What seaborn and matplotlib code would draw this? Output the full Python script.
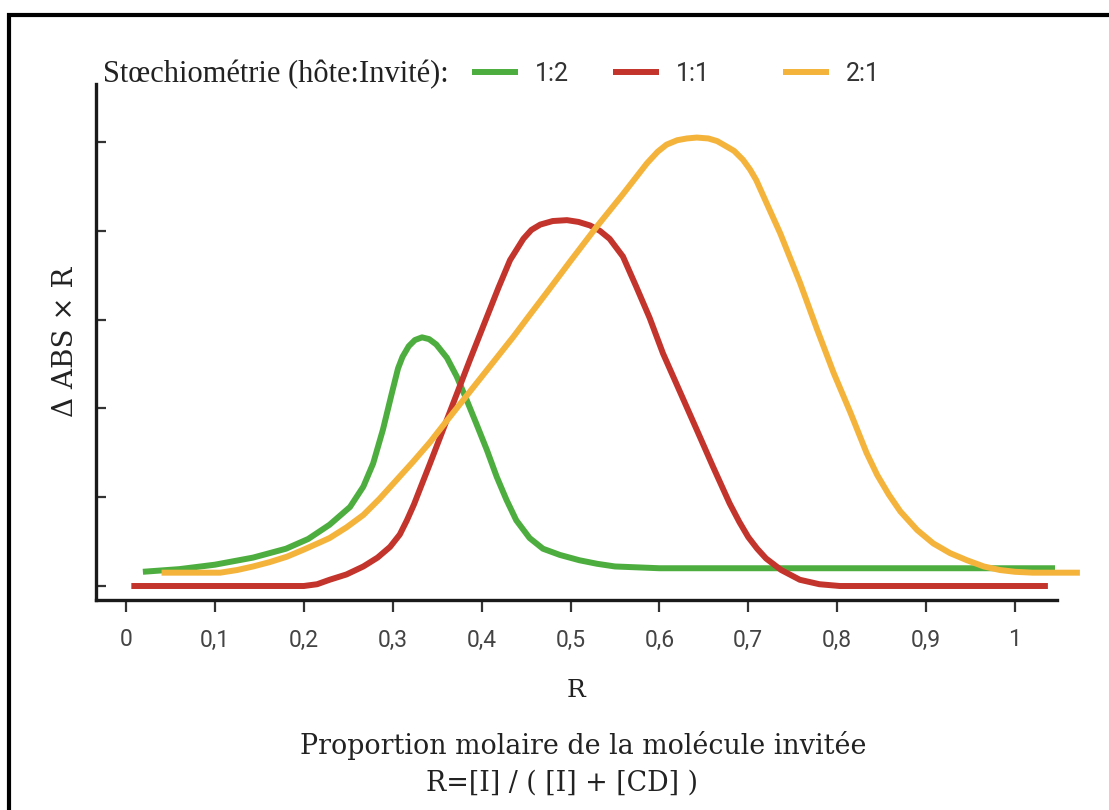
import numpy as np
import pandas as pd
import seaborn as sns
import matplotlib
matplotlib.use("Agg")
import matplotlib.pyplot as plt
from matplotlib.lines import Line2D
from matplotlib.patches import Rectangle

# ---------------- data ----------------
r_12 = [0.019, 0.06, 0.10, 0.143, 0.18, 0.205, 0.229, 0.252, 0.267, 0.278, 0.289, 0.299,
        0.306, 0.311, 0.318, 0.325, 0.333, 0.341, 0.349, 0.361, 0.372, 0.383, 0.394, 0.406,
        0.417, 0.428, 0.439, 0.454, 0.469, 0.488, 0.51, 0.53, 0.55, 0.60, 0.80, 1.045]
v_12 = [0.16, 0.19, 0.24, 0.32, 0.42, 0.53, 0.69, 0.89, 1.12, 1.38, 1.76, 2.17,
        2.45, 2.58, 2.70, 2.77, 2.80, 2.78, 2.72, 2.57, 2.36, 2.10, 1.83, 1.53,
        1.23, 0.97, 0.74, 0.54, 0.42, 0.35, 0.29, 0.25, 0.22, 0.20, 0.20, 0.20]

r_11 = [0.006, 0.10, 0.200, 0.215, 0.229, 0.248, 0.267, 0.283, 0.297, 0.308, 0.316, 0.324,
        0.331, 0.342, 0.357, 0.372, 0.387, 0.402, 0.419, 0.432, 0.447, 0.456, 0.466, 0.480,
        0.496, 0.509, 0.522, 0.533, 0.544, 0.559, 0.574, 0.589, 0.604, 0.623, 0.642, 0.660,
        0.679, 0.690, 0.700, 0.710, 0.720, 0.737, 0.758, 0.78, 0.803, 1.037]
v_11 = [0.0, 0.0, 0.0, 0.02, 0.07, 0.13, 0.22, 0.32, 0.44, 0.58, 0.74, 0.92,
        1.10, 1.38, 1.77, 2.16, 2.55, 2.93, 3.36, 3.67, 3.91, 4.01, 4.07, 4.11,
        4.12, 4.10, 4.06, 4.00, 3.91, 3.71, 3.37, 3.02, 2.62, 2.19, 1.76, 1.35,
        0.93, 0.72, 0.55, 0.42, 0.31, 0.18, 0.07, 0.02, 0.0, 0.0]

r_21 = [0.04, 0.106, 0.125, 0.143, 0.162, 0.181, 0.20, 0.218, 0.229, 0.248, 0.267, 0.285,
        0.304, 0.323, 0.342, 0.360, 0.379, 0.398, 0.417, 0.436, 0.454, 0.473, 0.500, 0.529,
        0.558, 0.586, 0.598, 0.608, 0.620, 0.631, 0.642, 0.655, 0.665, 0.672, 0.684, 0.694,
        0.702, 0.709, 0.722, 0.736, 0.758, 0.777, 0.796, 0.815, 0.833, 0.845, 0.858, 0.871,
        0.89, 0.908, 0.927, 0.946, 0.965, 0.983, 1.00, 1.02, 1.073]
v_21 = [0.15, 0.15, 0.18, 0.22, 0.27, 0.33, 0.41, 0.49, 0.54, 0.66, 0.80, 0.98,
        1.19, 1.40, 1.62, 1.85, 2.09, 2.33, 2.57, 2.81, 3.05, 3.30, 3.66, 4.04,
        4.40, 4.76, 4.89, 4.97, 5.02, 5.04, 5.05, 5.04, 5.01, 4.97, 4.90, 4.80,
        4.69, 4.57, 4.28, 3.97, 3.42, 2.90, 2.40, 1.95, 1.50, 1.25, 1.03, 0.84,
        0.63, 0.48, 0.37, 0.29, 0.22, 0.18, 0.16, 0.15, 0.15]

series_names = ["1:2", "1:1", "2:1"]
x_ticks = [0, 0.1, 0.2, 0.3, 0.4, 0.5, 0.6, 0.7, 0.8, 0.9, 1.0]
x_tick_labels = ["0", "0,1", "0,2", "0,3", "0,4", "0,5", "0,6", "0,7", "0,8", "0,9", "1"]
y_ticks = [0, 1, 2, 3, 4, 5]

df = pd.concat([
    pd.DataFrame({"R": r_12, "val": v_12, "stoe": "1:2"}),
    pd.DataFrame({"R": r_11, "val": v_11, "stoe": "1:1"}),
    pd.DataFrame({"R": r_21, "val": v_21, "stoe": "2:1"}),
], ignore_index=True)

palette = {"1:2": "#4DAE3F", "1:1": "#C3342C", "2:1": "#F4B43C"}

# ---------------- figure ----------------
sns.set_theme(style="white")
plt.rcParams["font.family"] = ["DejaVu Serif"]

W, H = 1109, 810
fig = plt.figure(figsize=(W / 100, H / 100), dpi=100)
fig.patch.set_facecolor("white")

ax_left, ax_right, ax_bottom, ax_top = 96, 1057, 600, 84
ax = fig.add_axes([ax_left / W, 1 - ax_bottom / H, (ax_right - ax_left) / W, (ax_bottom - ax_top) / H])

sns.lineplot(data=df, x="R", y="val", hue="stoe", hue_order=series_names, palette=palette,
             sort=False, estimator=None, linewidth=4.3, ax=ax, legend=False)
for ln in ax.lines:
    ln.set_clip_on(False)
    ln.set_solid_capstyle("butt")
    ln.set_solid_joinstyle("round")

px_per_unit = 889.0
x0_px = 126.0
ax.set_xlim((ax_left - x0_px) / px_per_unit, (ax_right - x0_px) / px_per_unit)
ypx_per_unit = 88.8
ax.set_ylim(-(ax_bottom - 586) / ypx_per_unit, (586 - ax_top) / ypx_per_unit)

for s in ["top", "right"]:
    ax.spines[s].set_visible(False)
for s in ["left", "bottom"]:
    ax.spines[s].set_color("#1a1a1a")
    ax.spines[s].set_linewidth(2.4)

ax.set_xticks(x_ticks)
ax.set_xticklabels(x_tick_labels, family="Roboto", fontsize=16.5, color="#444444")
ax.tick_params(axis="x", direction="out", length=8.5, width=1.6, color="#333333", pad=12, bottom=True)
ax.set_yticks(y_ticks)
ax.set_yticklabels([])
ax.tick_params(axis="y", direction="in", length=7, width=1.6, color="#333333", left=True)

ax.set_xlabel("R", fontsize=18, color="#222222", labelpad=20)
ax.set_ylabel("Δ ABS × R", fontsize=20, color="#222222", labelpad=9)

# legend
fig.text(103 / W, 1 - 75 / H, "Stœchiométrie (hôte:Invité):", family="Liberation Serif",
         fontsize=22, color="#222222", va="center", ha="left")
legend_x = [472, 613, 783]
for name, lx in zip(series_names, legend_x):
    h = Line2D([0], [0], color=palette[name], lw=4.3, solid_capstyle="butt")
    leg = fig.legend([h], [name], loc="center left", bbox_to_anchor=(lx / W, 1 - 74 / H),
                     frameon=False, borderaxespad=0, borderpad=0, handlelength=1.85,
                     handletextpad=0.65, prop={"family": "Roboto", "size": 18})
    for t in leg.get_texts():
        t.set_color("#333333")

# bottom caption
fig.text(583 / W, 1 - 746 / H, "Proportion molaire de la molécule invitée",
         fontsize=19.4, color="#222222", ha="center", va="center")
fig.text(562 / W, 1 - 783 / H, "R=[I] / ( [I] + [CD] )",
         fontsize=19.4, color="#222222", ha="center", va="center")

# frame (top and left border)
fig.add_artist(Rectangle((9 / W, -0.5), 2.0, 0.5 + (1 - 15 / H), transform=fig.transFigure,
                         fill=False, edgecolor="black", linewidth=3.0, clip_on=False))

fig.savefig("out.png", dpi=100, facecolor="white")
